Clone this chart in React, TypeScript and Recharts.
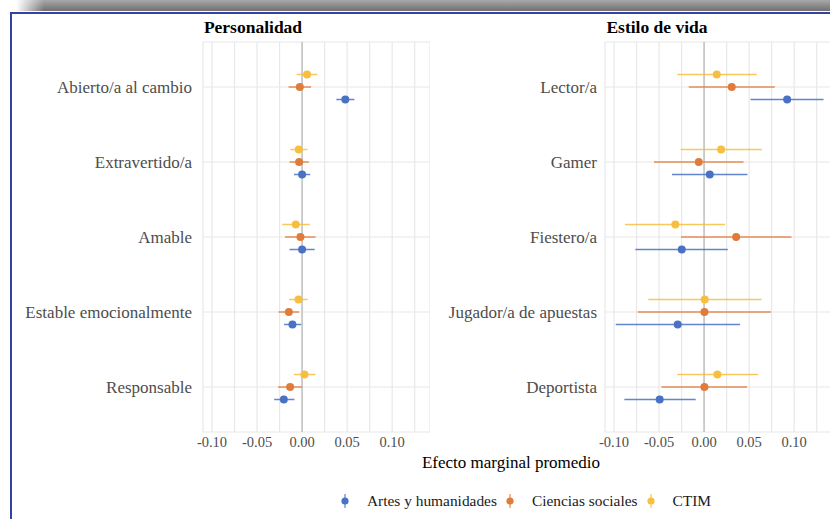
import React from 'react';
import {
  ScatterChart, Scatter, XAxis, YAxis, CartesianGrid, ErrorBar, ReferenceLine,
} from 'recharts';

// categories, top to bottom
const personalidadLabels = ['Abierto/a al cambio', 'Extravertido/a', 'Amable', 'Estable emocionalmente', 'Responsable'];
const estiloLabels = ['Lector/a', 'Gamer', 'Fiestero/a', 'Jugador/a de apuestas', 'Deportista'];

// Personalidad: estimates and 95% intervals [lo, hi]
const persArtes = [0.048, 0.0, 0.0, -0.0107, -0.0203];
const persArtesCI = [[0.038, 0.058], [-0.009, 0.009], [-0.014, 0.014], [-0.020, -0.001], [-0.031, -0.0085]];
const persSociales = [-0.0025, -0.0033, -0.0018, -0.0147, -0.0133];
const persSocialesCI = [[-0.015, 0.010], [-0.014, 0.0075], [-0.019, 0.015], [-0.026, -0.0033], [-0.0266, 0.0]];
const persCtim = [0.0055, -0.0037, -0.007, -0.004, 0.0026];
const persCtimCI = [[-0.006, 0.017], [-0.013, 0.006], [-0.022, 0.0085], [-0.0144, 0.0063], [-0.009, 0.0148]];

// Estilo de vida
const vidaArtes = [0.0922, 0.0063, -0.0248, -0.0293, -0.0493];
const vidaArtesCI = [[0.0515, 0.1326], [-0.0356, 0.0481], [-0.0763, 0.0263], [-0.0981, 0.04], [-0.0885, -0.0093]];
const vidaSociales = [0.0307, -0.0059, 0.0356, 0.0004, 0.0004];
const vidaSocialesCI = [[-0.017, 0.0785], [-0.0556, 0.0437], [-0.0256, 0.097], [-0.0737, 0.0744], [-0.0474, 0.0478]];
const vidaCtim = [0.0141, 0.0189, -0.0319, 0.0007, 0.0148];
const vidaCtimCI = [[-0.0296, 0.0585], [-0.0259, 0.0641], [-0.0878, 0.0233], [-0.0619, 0.0637], [-0.0296, 0.06]];

const xTicks = [-0.1, -0.075, -0.05, -0.025, 0, 0.025, 0.05, 0.075, 0.1, 0.125];
const yTicks = [0, 1, 2, 3, 4];

const groups = ['Artes y humanidades', 'Ciencias sociales', 'CTIM'];
const COLORS = ['#4a72c4', '#e07b3c', '#f7bf40'];
const DODGE = [1 / 6, 0, -1 / 6];

const FONT = '"Liberation Serif", "DejaVu Serif", serif';

function rows(est: number[], ci: number[][], dodge: number) {
  return est.map((v, i) => ({ x: v, y: i + dodge, err: [v - ci[i][0], ci[i][1] - v] }));
}

const fmtX = (v: number) => {
  const k = v * 20;
  return Math.abs(k - Math.round(k)) < 1e-6 ? v.toFixed(2) : '';
};

interface PanelProps {
  labels: string[];
  series: { est: number[]; ci: number[][] }[];
  width: number;
  yWidth: number;
  labelGap: number;
}

function Panel({ labels, series, width, yWidth, labelGap }: PanelProps) {
  return (
    <ScatterChart width={width} height={462} margin={{ top: 42, right: 0, bottom: 0, left: 0 }}>
      <CartesianGrid stroke="#e8e8e8" strokeWidth={1.2} />
      <XAxis
        type="number"
        dataKey="x"
        domain={[-0.11, 0.142]}
        allowDataOverflow
        ticks={xTicks}
        interval={0}
        tickFormatter={fmtX}
        axisLine={false}
        tickLine={false}
        tickSize={4}
        tickMargin={1}
        height={30}
        tick={{ fill: '#4d4d4d', fontSize: 14.5, fontFamily: FONT }}
      />
      <YAxis
        type="number"
        dataKey="y"
        domain={[-0.6, 4.6]}
        reversed
        ticks={yTicks}
        interval={0}
        tickFormatter={(i: number) => labels[i] ?? ''}
        axisLine={false}
        tickLine={false}
        tickSize={labelGap}
        tickMargin={0}
        width={yWidth}
        tick={{ fill: '#4d4d4d', fontSize: 17, fontFamily: FONT }}
      />
      <ReferenceLine x={0} stroke="#c4c4c4" strokeWidth={1.6} />
      {series.map((s, g) => (
        <Scatter
          key={groups[g]}
          name={groups[g]}
          data={rows(s.est, s.ci, DODGE[g])}
          isAnimationActive={false}
          shape={(p: any) => <circle cx={p.cx} cy={p.cy} r={4} fill={COLORS[g]} />}
        >
          <ErrorBar dataKey="err" direction="x" width={0} stroke={COLORS[g]} strokeWidth={1.5} opacity={0.85} />
        </Scatter>
      ))}
    </ScatterChart>
  );
}

function LegendKey({ color }: { color: string }) {
  return (
    <svg width={14} height={16} style={{ display: 'block' }}>
      <line x1={7} x2={7} y1={1} y2={15} stroke={color} strokeWidth={1.5} opacity={0.7} />
      <circle cx={7} cy={8} r={3.6} fill={color} />
    </svg>
  );
}

export default function App() {
  return (
    <div style={{ position: 'fixed', left: 0, top: 0, width: 830, height: 519, overflow: 'hidden', background: '#fff', fontFamily: FONT }}>
      <div
        style={{
          position: 'absolute', left: 0, top: 0, width: 830, height: 11,
          background: 'linear-gradient(to right, #fff 0px, #fff 16px, rgba(255,255,255,0) 44px), linear-gradient(#a8a8a8, #707070)',
        }}
      />
      <div style={{ position: 'absolute', left: 10, top: 12, width: 840, height: 520, borderLeft: '2px solid #3343a2', borderTop: '2px solid #3343a2' }} />

      <div style={{ position: 'absolute', left: 0, top: 0 }}>
        <Panel
          labels={personalidadLabels}
          series={[{ est: persArtes, ci: persArtesCI }, { est: persSociales, ci: persSocialesCI }, { est: persCtim, ci: persCtimCI }]}
          width={430}
          yWidth={203}
          labelGap={11}
        />
      </div>
      <div style={{ position: 'absolute', left: 430, top: 0 }}>
        <Panel
          labels={estiloLabels}
          series={[{ est: vidaArtes, ci: vidaArtesCI }, { est: vidaSociales, ci: vidaSocialesCI }, { est: vidaCtim, ci: vidaCtimCI }]}
          width={402}
          yWidth={175}
          labelGap={8}
        />
      </div>

      <div style={{ position: 'absolute', left: 153, top: 18, width: 200, textAlign: 'center', fontSize: 17.5, fontWeight: 'bold', lineHeight: '18px', color: '#000' }}>
        Personalidad
      </div>
      <div style={{ position: 'absolute', left: 557, top: 18, width: 200, textAlign: 'center', fontSize: 17.5, fontWeight: 'bold', lineHeight: '18px', color: '#000' }}>
        Estilo de vida
      </div>

      <div style={{ position: 'absolute', left: 361, top: 454, width: 300, textAlign: 'center', fontSize: 17, lineHeight: '18px', color: '#000' }}>
        Efecto marginal promedio
      </div>

      <div style={{ position: 'absolute', left: 338, top: 492, display: 'flex', alignItems: 'center', fontSize: 15.4, lineHeight: '18px', color: '#1a1a1a' }}>
        {groups.map((g, i) => (
          <React.Fragment key={g}>
            <LegendKey color={COLORS[i]} />
            <span style={{ marginLeft: 15, marginRight: i < groups.length - 1 ? 6 : 0 }}>{g}</span>
          </React.Fragment>
        ))}
      </div>
    </div>
  );
}
